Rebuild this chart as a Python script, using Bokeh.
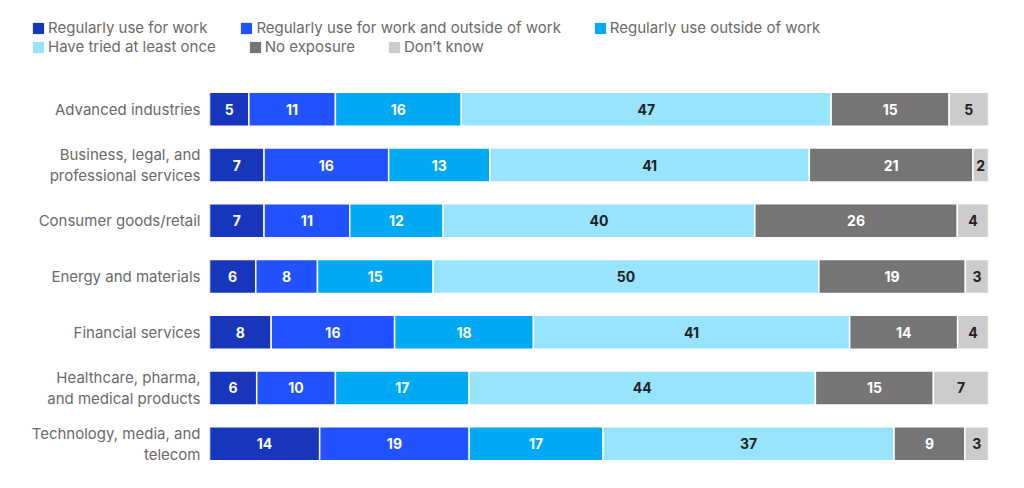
import pandas as pd
from bokeh.plotting import figure
from bokeh.layouts import column
from bokeh.models import ColumnDataSource, FactorRange, Legend, LegendItem
from bokeh.core.properties import value
from bokeh.embed import file_html
from bokeh.resources import INLINE

categories = [
    "Advanced industries",
    "Business, legal, and\nprofessional services",
    "Consumer goods/retail",
    "Energy and materials",
    "Financial services",
    "Healthcare, pharma,\nand medical products",
    "Technology, media, and\ntelecom",
]
series_names = [
    "Regularly use for work",
    "Regularly use for work and outside of work",
    "Regularly use outside of work",
    "Have tried at least once",
    "No exposure",
    "Don\u2019t know",
]
use_for_work = [5, 7, 7, 6, 8, 6, 14]
use_work_and_outside = [11, 16, 11, 8, 16, 10, 19]
use_outside_work = [16, 13, 12, 15, 18, 17, 17]
tried_once = [47, 41, 40, 50, 41, 44, 37]
no_exposure = [15, 21, 26, 19, 14, 15, 9]
dont_know = [5, 2, 4, 3, 4, 7, 3]

colors = ["#1736BC", "#2251FF", "#00A9F4", "#99E4FD", "#757575", "#CCCCCC"]
label_colors = ["white", "white", "white", "#222222", "white", "#222222"]

series = [use_for_work, use_work_and_outside, use_outside_work, tried_once, no_exposure, dont_know]
df = pd.DataFrame({n: s for n, s in zip(series_names, series)}, index=categories)
totals = df.sum(axis=1)
norm = df.div(totals, axis=0) * 100
rights = norm.cumsum(axis=1)
lefts = rights - norm

FONT = "Inter"
GREY = "#6a6a6a"

# ---- main chart ----
p = figure(
    width=1000, height=400,
    frame_width=779, frame_height=390,
    y_range=FactorRange(factors=list(reversed(categories))),
    x_range=(0, 100),
    output_backend="svg", toolbar_location=None,
    min_border_left=209, min_border_right=12, min_border_top=0, min_border_bottom=10,
)
p.frame_align = False
p.outline_line_color = None
p.xgrid.visible = False
p.ygrid.visible = False
p.xaxis.visible = False
p.yaxis.axis_line_color = None
p.yaxis.major_tick_line_color = None
p.yaxis.minor_tick_line_color = None
p.yaxis.major_tick_out = 0
p.yaxis.major_tick_in = 0
p.yaxis.major_label_standoff = 9
p.yaxis.major_label_text_font = FONT
p.yaxis.major_label_text_font_size = "15px"
p.yaxis.major_label_text_color = GREY
p.yaxis.major_label_text_line_height = 1.1

for i, name in enumerate(series_names):
    src = ColumnDataSource(dict(
        y=categories,
        left=lefts[name].values,
        right=rights[name].values,
        mid=((lefts[name] + rights[name]) / 2).values,
        label=[str(v) for v in df[name].values],
    ))
    p.hbar(y="y", left="left", right="right", height=0.61, source=src,
           fill_color=colors[i], line_color="white", line_width=1.5)
    p.text(x="mid", y="y", text="label", source=src,
           text_align="center", text_baseline="middle",
           text_font=value(FONT), text_font_style="bold",
           text_font_size="14px", text_color=label_colors[i])

# ---- legend strip ----
lg = figure(
    width=1000, height=81, x_range=(0, 1), y_range=(0, 1),
    output_backend="svg", toolbar_location=None,
    min_border_left=0, min_border_right=0, min_border_top=0, min_border_bottom=0,
)
lg.frame_align = False
lg.outline_line_color = None
lg.axis.visible = False
lg.grid.visible = False
# legend swatches: one off-screen bar per series (far outside the visible ranges)
legend_renderers = [
    lg.hbar(y=[-50], left=[-50], right=[-49], height=1,
            fill_color=c, line_color=None)
    for c in colors
]

def make_legend(idx, loc):
    items = [LegendItem(label=series_names[i], renderers=[legend_renderers[i]]) for i in idx]
    return Legend(items=items, location=loc, orientation="horizontal",
                  glyph_width=14, glyph_height=14, label_height=18,
                  label_standoff=3, spacing=32, padding=0, margin=0,
                  border_line_color=None, background_fill_alpha=0,
                  label_text_font=FONT, label_text_font_size="15px",
                  label_text_color=GREY)

lg.add_layout(make_legend([0, 1, 2], (31, 44)), "center")
lg.add_layout(make_legend([3, 4, 5], (31, 25)), "center")

layout = column(lg, p, spacing=0)
open("out.html", "w").write(file_html(layout, INLINE))
